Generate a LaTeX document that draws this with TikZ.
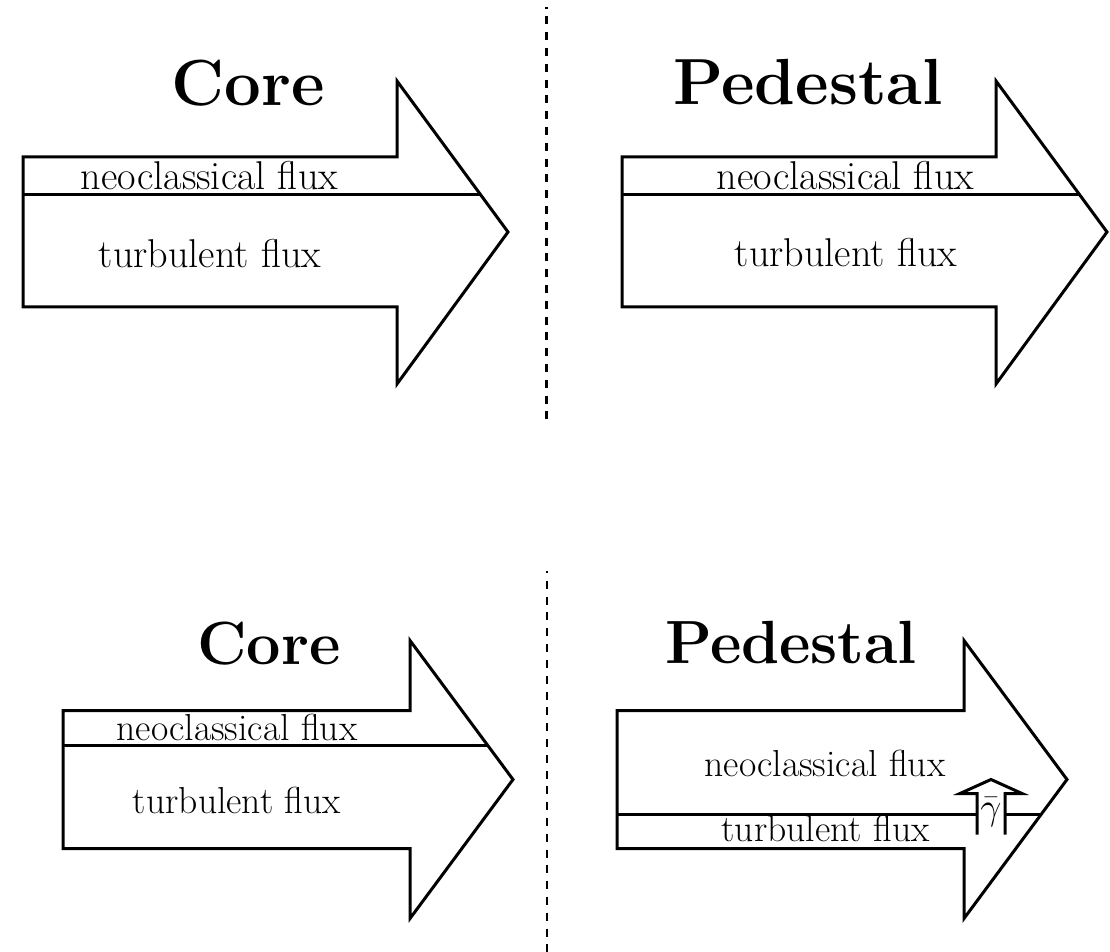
\RequirePackage{fix-cm}
\documentclass[tikz,border=0pt]{standalone}
\usepackage{fontspec}
\tikzset{
  outl/.style={line width=1.5pt, line join=miter},
  sepline/.style={line width=1.3pt, dash pattern=on 4pt off 3.9pt, dash phase=3.2pt},
  labT/.style={font=\fontsize{20.1}{23}\selectfont, inner sep=0pt, anchor=base},
  labB/.style={font=\fontsize{18.8}{22}\selectfont, inner sep=0pt, anchor=base},
  titT/.style={font=\fontsize{32.6}{38}\selectfont\bfseries, inner sep=0pt, anchor=base},
  titB/.style={font=\fontsize{30.5}{35}\selectfont\bfseries, inner sep=0pt, anchor=base},
}
\begin{document}
\begin{tikzpicture}[x=0.5pt,y=-0.5pt]
\useasboundingbox (0,0) rectangle (1110,952);
% separators
\coordinate (s1a) at (546.7,7); \coordinate (s1b) at (546.7,420);
\coordinate (s2a) at (547,571.5); \coordinate (s2b) at (547,952);
\draw[sepline] (s1a) -- (s1b);
\draw[sepline] (s2a) -- (s2b);
% top-left arrow
\draw[outl] (23,157) -- (397,157) -- (397,81) -- (508,232) -- (397,384) -- (397,307) -- (23,307) -- cycle;
\draw[outl] (23,194.5) -- (480.4,194.5);
\node[titT] (coreT) at (248,106) {Core};
\node[labT] (neoTL) at (209.5,189.5) {neoclassical flux};
\node[labT] (turTL) at (210,267.5) {turbulent flux};
% top-right arrow
\draw[outl] (622,157) -- (996,157) -- (996,81) -- (1107,232) -- (996,384) -- (996,307) -- (622,307) -- cycle;
\draw[outl] (622,194.5) -- (1079.4,194.5);
\node[titT] (pedT) at (808,105) {Pedestal};
\node[labT] (neoTR) at (845.5,189.5) {neoclassical flux};
\node[labT] (turTR) at (846,267) {turbulent flux};
% bottom-left arrow
\draw[outl] (63,710.5) -- (410,710.5) -- (410,640.5) -- (513,779.5) -- (410,918.5) -- (410,848.5) -- (63,848.5) -- cycle;
\draw[outl] (63,745.5) -- (487.8,745.5);
\node[titB] (coreB) at (269,664) {Core};
\node[labB] (neoBL) at (237,740.5) {neoclassical flux};
\node[labB] (turBL) at (237,813) {turbulent flux};
% bottom-right arrow
\draw[outl] (617,710.5) -- (964,710.5) -- (964,640.5) -- (1067,779.5) -- (964,918.5) -- (964,848.5) -- (617,848.5) -- cycle;
\draw[outl] (617,814) -- (977,814);
\draw[outl] (1005,814) -- (1041.4,814);
\draw[outl] (977,834.5) -- (977,793.5) -- (960,793.5) -- (991,779.5) -- (1022,793.5) -- (1005,793.5) -- (1005,834.5);
\node[titB] (pedB) at (791,663) {Pedestal};
\node[labB] (neoBR) at (825,776.7) {neoclassical flux};
\node[labB] (turBR) at (825.5,841.7) {turbulent flux};
\node[labB] (gam) at (991,819) {$\bar{\gamma}$};
\end{tikzpicture}
\end{document}
